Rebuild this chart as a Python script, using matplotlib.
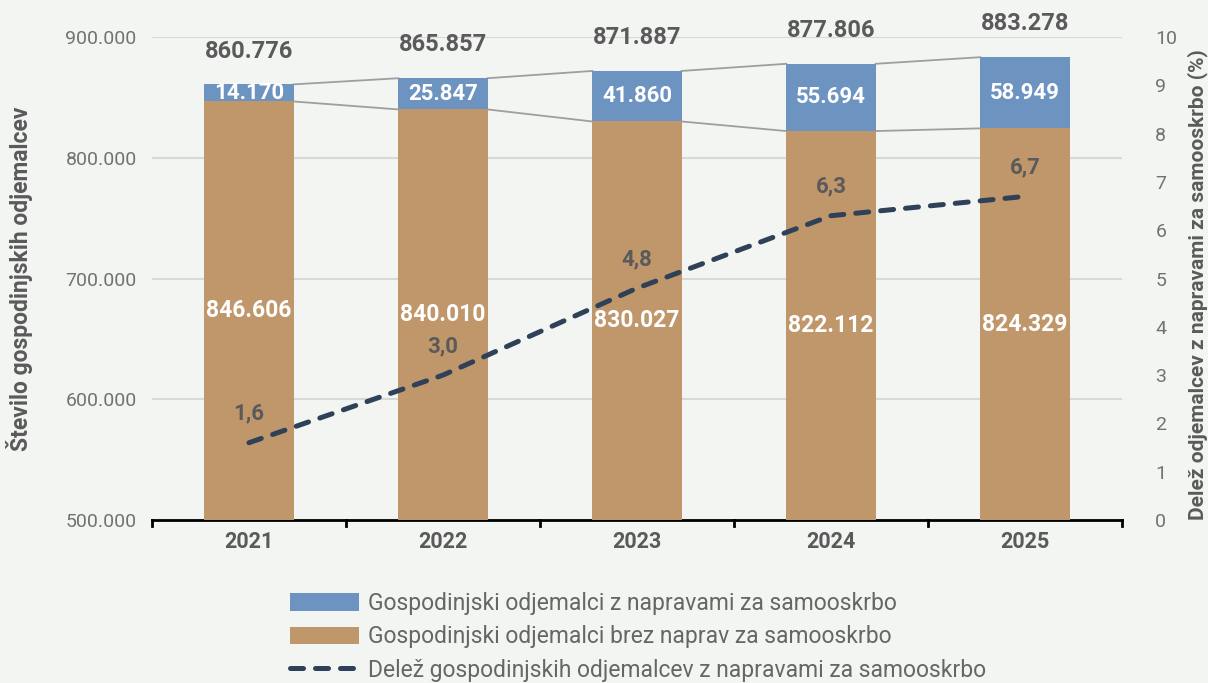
import matplotlib
matplotlib.use("Agg")
import matplotlib.pyplot as plt
import numpy as np

years = ["2021", "2022", "2023", "2024", "2025"]
with_devices = [14170, 25847, 41860, 55694, 58949]
without_devices = [846606, 840010, 830027, 822112, 824329]
totals = [860776, 865857, 871887, 877806, 883278]
share = [1.6, 3.0, 4.8, 6.3, 6.7]

total_labels = ["860.776", "865.857", "871.887", "877.806", "883.278"]
with_labels = ["14.170", "25.847", "41.860", "55.694", "58.949"]
without_labels = ["846.606", "840.010", "830.027", "822.112", "824.329"]
share_labels = ["1,6", "3,0", "4,8", "6,3", "6,7"]
left_ticks = [500000, 600000, 700000, 800000, 900000]
left_ticklabels = ["500.000", "600.000", "700.000", "800.000", "900.000"]

BG = "#f2f5f2"
BLUE = "#6d93c0"
BROWN = "#bf976b"
NAVY = "#2e4159"
GRAY_TXT = "#5a5a5a"
TICK_TXT = "#727272"

plt.rcParams['font.family'] = ['Roboto', 'DejaVu Sans']

fig = plt.figure(figsize=(12.08, 6.83), dpi=100, facecolor=BG)
ax = fig.add_axes([152/1208, 1-520/683, (1122-152)/1208, (520-37)/683])
ax.set_facecolor(BG)

x = np.arange(len(years))
w = 0.46
ymin = 500000
b1 = ax.bar(x, np.array(without_devices) - ymin, bottom=ymin, width=w, color=BROWN,
            label="Gospodinjski odjemalci brez naprav za samooskrbo", zorder=3)
b2 = ax.bar(x, with_devices, bottom=without_devices, width=w, color=BLUE,
            label="Gospodinjski odjemalci z napravami za samooskrbo", zorder=3)

# connector lines
for i in range(len(x) - 1):
    ax.plot([x[i] + w/2, x[i+1] - w/2], [totals[i], totals[i+1]], color="#9e9e9e", lw=1.3, zorder=2)
    ax.plot([x[i] + w/2, x[i+1] - w/2], [without_devices[i], without_devices[i+1]], color="#9e9e9e", lw=1.3, zorder=2)

ax.set_ylim(500000, 900000)
ax.set_xlim(-0.5, 4.5)
ax.set_yticks(left_ticks)
ax.set_yticklabels(left_ticklabels)
ax.grid(axis='y', color="#d8d8d8", lw=1.5, zorder=0)
ax.set_axisbelow(True)
for s in ["top", "right", "left"]:
    ax.spines[s].set_visible(False)
ax.spines["bottom"].set_color("black")
ax.spines["bottom"].set_linewidth(2)
ax.tick_params(axis='y', length=0, pad=11, labelsize=14, labelcolor=TICK_TXT)
ax.set_xticks(x)
ax.set_xticklabels(years, fontsize=15.5, fontweight='bold', color=GRAY_TXT)
ax.tick_params(axis='x', length=0, pad=8)
for b in np.arange(-0.5, 4.6, 1.0):
    ax.plot([b, b], [0, -0.012], transform=ax.get_xaxis_transform(), color="black", lw=2, clip_on=False)
ax.set_ylabel("Število gospodinjskih odjemalcev", fontsize=16.5, fontweight='bold', color=GRAY_TXT)
ax.yaxis.set_label_coords(-0.123, 0.50)

for i in range(len(x)):
    ax.annotate(total_labels[i], (x[i], totals[i]), xytext=(0, 24), textcoords="offset points",
                ha='center', va='center', fontsize=17, fontweight='bold', color=GRAY_TXT)
    ax.text(x[i], (without_devices[i] + totals[i]) / 2, with_labels[i], ha='center', va='center',
            fontsize=16, fontweight='bold', color="white", zorder=5)
    ax.text(x[i], (ymin + without_devices[i]) / 2, without_labels[i], ha='center', va='center',
            fontsize=16.5, fontweight='bold', color="white", zorder=5)

ax2 = ax.twinx()
ax2.set_ylim(0, 10)
ax2.set_yticks(range(0, 11))
for s in ["top", "right", "left", "bottom"]:
    ax2.spines[s].set_visible(False)
ax2.tick_params(axis='y', length=0, pad=24, labelsize=14, labelcolor=TICK_TXT)
for t in ax2.get_yticklabels():
    t.set_ha('left')
ln, = ax2.plot(x, share, color=NAVY, lw=3.6, linestyle=(0, (2.6, 2.4)), dash_capstyle='round',
               label="Delež gospodinjskih odjemalcev z napravami za samooskrbo", zorder=4)
for i in range(len(x)):
    ax2.annotate(share_labels[i], (x[i], share[i]), xytext=(0, 21), textcoords="offset points",
                 ha='center', va='center', fontsize=16, fontweight='bold', color=GRAY_TXT)
ax2.set_ylabel("Delež odjemalcev z napravami za samooskrbo (%)", fontsize=15, fontweight='bold',
               color=GRAY_TXT)
ax2.yaxis.set_label_coords(1.067, 0.487)

leg = fig.legend([b2, b1, ln], [b2.get_label(), b1.get_label(), ln.get_label()],
                 loc='upper left', bbox_to_anchor=(281/1208, 1-583/683), frameon=False,
                 fontsize=16.5, handlelength=3.0, handleheight=0.8, handletextpad=0.4,
                 labelspacing=0.45, labelcolor="#666666", borderaxespad=0)

fig.savefig("out.png", dpi=100, facecolor=BG)
